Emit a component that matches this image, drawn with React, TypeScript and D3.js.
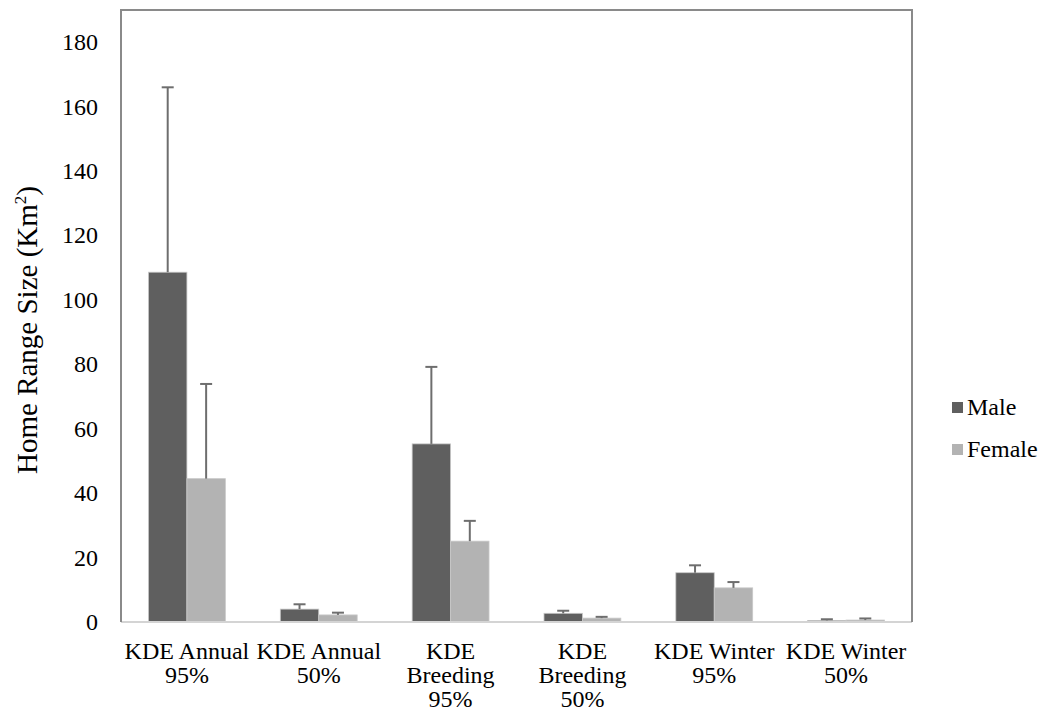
import React from "react";
import * as d3 from "d3";

const categories = [
  ["KDE Annual", "95%"],
  ["KDE Annual", "50%"],
  ["KDE", "Breeding", "95%"],
  ["KDE", "Breeding", "50%"],
  ["KDE Winter", "95%"],
  ["KDE Winter", "50%"],
];
const seriesNames = ["Male", "Female"];
const maleValues = [108.6, 4.0, 55.3, 2.7, 15.3, 0.5];
const maleErrors = [57.4, 1.5, 23.9, 0.8, 2.3, 0.35];
const femaleValues = [44.5, 2.2, 25.1, 1.2, 10.6, 0.6];
const femaleErrors = [29.4, 0.7, 6.3, 0.4, 1.8, 0.5];
const yTicks = [0, 20, 40, 60, 80, 100, 120, 140, 160, 180];
const colors = ["#5f5f5f", "#b3b3b3"];

const FONT = '"Liberation Serif", "Times New Roman", serif';

export default function App() {
  const W = 1042, H = 715;
  const left = 121, right = 912, top = 10, bottom = 622;
  const x = d3.scaleBand<number>().domain(d3.range(categories.length)).range([left, right]).paddingInner(0.417).paddingOuter(0.2085);
  const y = d3.scaleLinear().domain([0, 190]).range([bottom, top]);
  const bw = x.bandwidth() / 2;
  const series = [
    { vals: maleValues, errs: maleErrors },
    { vals: femaleValues, errs: femaleErrors },
  ];
  const ts = { fontFamily: FONT };
  const fs = 24;
  return (
    <svg width={W} height={H} style={{ position: "absolute", left: 0, top: 0 }}>
      <rect x={0} y={0} width={W} height={H} fill="#fff" />
      {series.map((s, si) =>
        s.vals.map((v, i) => {
          const bx = (x(i) as number) + si * bw;
          return (
            <rect key={`${si}-${i}`} x={bx} y={y(v)} width={bw} height={bottom - y(v)} fill={colors[si]} stroke="#c8c8c8" strokeWidth={0.8} />
          );
        })
      )}
      {series.map((s, si) =>
        s.vals.map((v, i) => {
          const cx = (x(i) as number) + si * bw + bw / 2;
          const yt = y(v + s.errs[i]);
          return (
            <g key={`e${si}-${i}`} stroke="#6e6e6e" strokeWidth={2}>
              <line x1={cx} x2={cx} y1={y(v)} y2={yt} />
              <line x1={cx - 6} x2={cx + 6} y1={yt} y2={yt} />
            </g>
          );
        })
      )}
      <line x1={left} x2={right} y1={bottom} y2={bottom} stroke="#d4d4d4" strokeWidth={2} />
      <path d={`M${left},${bottom} V${top} H${right} V${bottom}`} fill="none" stroke="#8a8a8a" strokeWidth={2} />
      {yTicks.map((t) => (
        <text key={t} style={ts} x={98} y={y(t) + 8} textAnchor="end" fontSize={fs} fill="#000">{t}</text>
      ))}
      <text style={ts} transform={`translate(37,330) rotate(-90)`} textAnchor="middle" fontSize={29} fill="#000">
        Home Range Size (Km<tspan dy={-11} fontSize={17}>2</tspan><tspan dy={11}>)</tspan>
      </text>
      {categories.map((lines, i) => (
        <text key={i} style={ts} textAnchor="middle" fontSize={fs} fill="#000">
          {lines.map((l, j) => (
            <tspan key={j} x={(x(i) as number) + x.bandwidth() / 2} y={659 + j * 24}>{l}</tspan>
          ))}
        </text>
      ))}
      {seriesNames.map((n, i) => (
        <g key={n}>
          <rect x={952} y={402 + i * 42} width={11} height={11} fill={colors[i]} />
          <text style={ts} x={967} y={415 + i * 42} fontSize={fs} fill="#000">{n}</text>
        </g>
      ))}
    </svg>
  );
}
